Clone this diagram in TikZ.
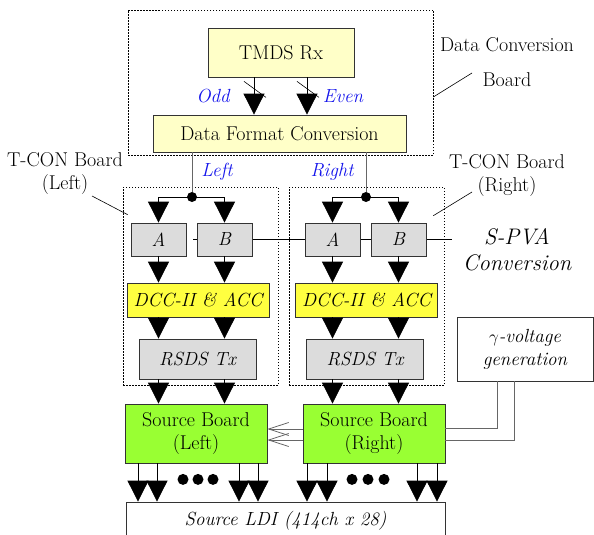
\documentclass[tikz,border=0pt]{standalone}
\usetikzlibrary{arrows.meta,backgrounds}
\definecolor{paleyellow}{RGB}{255,255,200}
\definecolor{dccyellow}{RGB}{255,255,64}
\definecolor{boxgray}{RGB}{220,220,220}
\definecolor{boardgreen}{RGB}{153,255,51}
\definecolor{sigblue}{RGB}{20,20,235}

\begin{document}
\begin{tikzpicture}[x=1pt,y=-1pt,
	every node/.style={font=\fontsize{20}{23}\selectfont},
	it/.style={font=\fontsize{19}{23}\selectfont\itshape},
	box/.style={draw=black!80,line width=0.8pt,inner sep=0pt,align=center},
	board/.style={draw,line width=0.6pt,dash pattern=on 1.5pt off 1.5pt,inner sep=0pt},
	pale/.style={box,fill=paleyellow},
	gbox/.style={box,fill=boxgray,it},
	dccbox/.style={box,fill=dccyellow,it,minimum width=142,minimum height=34},
	srcbox/.style={box,fill=boardgreen,minimum width=142,minimum height=59},
	dot/.style={circle,fill=black,inner sep=0pt,minimum size=10},
	arr/.style={line width=0.8pt,-{Triangle[length=21pt,width=21pt]}},
	wire/.style={draw=black!60,line width=0.8pt},
	sig/.style={text=sigblue,it}]
	\useasboundingbox (0,0) rectangle (594,535);

	\node[board,minimum width=305,minimum height=145] (dcb) at (280.5,82.5) {};
	\node[pale,minimum width=146,minimum height=49] (tmds) at (281,52.5) {TMDS Rx};
	\node[pale,minimum width=253,minimum height=37] (dfc) at (279.5,133.5) {Data Format Conversion};
	\node[board,minimum width=155,minimum height=198] (tconl) at (200.5,286) {};
	\node[board,minimum width=155,minimum height=198] (tconr) at (366.5,286) {};

	\foreach \s/\ax/\bx in {l/158.5/224.5,r/332.5/398.5}{
		\node[gbox,minimum width=55,minimum height=33] (a\s) at (\ax,239.5) {A};
		\node[gbox,minimum width=55,minimum height=33] (b\s) at (\bx,239.5) {B};
	}
	\node[dccbox] (dccl) at (198,300) {DCC-II \& ACC};
	\node[dccbox] (dccr) at (366.5,300) {DCC-II \& ACC};
	\node[gbox,minimum width=117,minimum height=40] (rsdsl) at (197.5,359) {RSDS Tx};
	\node[gbox,minimum width=117,minimum height=40] (rsdsr) at (365,359) {RSDS Tx};
	\node[srcbox] (sbl) at (196,433.5) {Source Board\\(Left)};
	\node[srcbox] (sbr) at (374,433.5) {Source Board\\(Right)};
	\node[box,it,minimum width=136,minimum height=64] (gamma) at (525,349) {$\gamma$-voltage\\generation};
	\node[box,it,minimum width=319,minimum height=38] (ldi) at (285.5,521) {Source LDI (414ch x 28)};

	\node[dot] (dotl) at (192,197) {};
	\node[dot] (dotr) at (366,197) {};

	\begin{scope}[on background layer]
		\draw[line width=0.8pt] ([xshift=7]al.east) -- ([xshift=26]br.east);
	\end{scope}

	\coordinate (odd) at ([xshift=-27]tmds.south);
	\coordinate (even) at ([xshift=26]tmds.south);
	\foreach \c in {odd,even}{
		\draw[arr] (\c) -- (\c |- dfc.north);
		\draw[line width=0.6pt] ([shift={(-10,4)}]\c) -- ([shift={(12,20)}]\c);
	}

	\foreach \s in {l,r}{
		\draw[wire] (dot\s) -- (dot\s |- dfc.south);
		\foreach \c in {a,b}{
			\draw[arr] (dot\s.center) -| (\c\s.north);
			\draw[arr] (\c\s.south) -- (\c\s.south |- dcc\s.north);
			\draw[arr] (\c\s.south |- dcc\s.south) -- (\c\s.south |- rsds\s.north);
			\draw[arr] (\c\s.south |- rsds\s.south) -- (\c\s.south |- sb\s.north);
		}
	}

	\foreach \dx in {-58,-39,43,62}
		\draw[arr] ([xshift=\dx]sbl.south) -- ([xshift=\dx]sbl.south |- ldi.north);
	\foreach \dx in {-67,-47,43,63}
		\draw[arr] ([xshift=\dx]sbr.south) -- ([xshift=\dx]sbr.south |- ldi.north);
	\foreach \dx in {-13,2,17}
		\fill ([shift={(\dx,16)}]sbl.south) circle (5.5);
	\foreach \dx in {-22,-6,10}
		\fill ([shift={(\dx,16)}]sbr.south) circle (5.5);

	\draw[wire,-{Straight Barb[length=20pt,width=13pt]}] ([yshift=4.5]sbr.west) -- ([yshift=4.5]sbl.east);
	\draw[wire,-{Straight Barb[length=20pt,width=13pt]}] ([yshift=-6.5]sbr.west) -- ([yshift=-6.5]sbl.east);
	\draw[wire] ([xshift=-28]gamma.south) |- ([yshift=5.5]sbr.east);
	\draw[wire] ([xshift=-11]gamma.south) |- ([yshift=-6.5]sbr.east);

	\node[sig] (lodd) at (213,96) {Odd};
	\node[sig] (leven) at (343,96) {Even};
	\node[sig] (lleft) at (217,172) {Left};
	\node[sig] (lright) at (332,172) {Right};
	\node[align=center] (tconllabel) at (65,174) {T-CON Board\\(Left)};
	\node[align=center] (tconrlabel) at (507,176) {T-CON Board\\(Right)};
	\node[align=center] (dcblabel) at (507,62) {Data Conversion\\[12pt]Board};
	\node[align=center,font=\fontsize{22.5}{26}\selectfont\itshape] (spva) at (517,250) {S-PVA\\Conversion};

	\coordinate (tconltip) at (92,196);
	\coordinate (tconrtip) at (472,192);
	\coordinate (dcbtip) at (472,73);
	\draw[line width=0.6pt] (tconltip) -- ([shift={(5,28)}]tconl.north west);
	\draw[line width=0.6pt] (tconrtip) -- ([shift={(-11,29)}]tconr.north east);
	\draw[line width=0.6pt] (dcbtip) -- ([shift={(0,14.5)}]dcb.east);
\end{tikzpicture}
\end{document}
